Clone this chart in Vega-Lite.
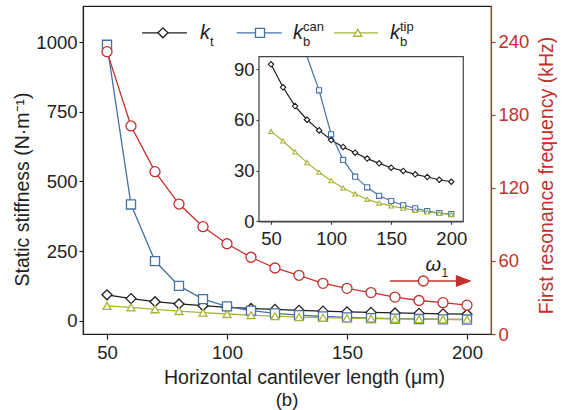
{
  "$schema": "https://vega.github.io/schema/vega-lite/v6.json",
  "width": 408,
  "height": 328,
  "autosize": {"type": "none"},
  "padding": {"left": 83, "top": 6, "right": 71, "bottom": 76},
  "background": "white",
  "config": {
    "view": {"stroke": "#222", "strokeWidth": 1.2},
    "axis": {
      "grid": false,
      "labelFont": "Liberation Sans",
      "titleFont": "Liberation Sans",
      "labelFontSize": 18.5,
      "titleFontSize": 19.5,
      "titleFontWeight": "normal",
      "labelColor": "#222",
      "titleColor": "#222",
      "domainColor": "#222",
      "tickColor": "#222",
      "domainWidth": 1.2,
      "tickWidth": 1.2,
      "format": "d"
    },
    "text": {"font": "Liberation Sans"}
  },
  "datasets": {
    "stiff": [
      {"L": 50, "series": "kt", "k": 92.9}, {"L": 60, "series": "kt", "k": 79.3}, {"L": 70, "series": "kt", "k": 68.2}, {"L": 80, "series": "kt", "k": 60.1},
      {"L": 90, "series": "kt", "k": 53.8}, {"L": 100, "series": "kt", "k": 48.1}, {"L": 110, "series": "kt", "k": 44.0}, {"L": 120, "series": "kt", "k": 40.6},
      {"L": 130, "series": "kt", "k": 37.1}, {"L": 140, "series": "kt", "k": 34.3}, {"L": 150, "series": "kt", "k": 31.7}, {"L": 160, "series": "kt", "k": 29.8},
      {"L": 170, "series": "kt", "k": 27.8}, {"L": 180, "series": "kt", "k": 26.2}, {"L": 190, "series": "kt", "k": 24.6}, {"L": 200, "series": "kt", "k": 23.4},
      {"L": 50, "series": "kbcan", "k": 990}, {"L": 60, "series": "kbcan", "k": 417}, {"L": 70, "series": "kbcan", "k": 214}, {"L": 80, "series": "kbcan", "k": 125},
      {"L": 90, "series": "kbcan", "k": 77.5}, {"L": 100, "series": "kbcan", "k": 51.5}, {"L": 110, "series": "kbcan", "k": 36.3}, {"L": 120, "series": "kbcan", "k": 26.4},
      {"L": 130, "series": "kbcan", "k": 20.1}, {"L": 140, "series": "kbcan", "k": 15.1}, {"L": 150, "series": "kbcan", "k": 12.0}, {"L": 160, "series": "kbcan", "k": 9.5},
      {"L": 170, "series": "kbcan", "k": 7.7}, {"L": 180, "series": "kbcan", "k": 6.1}, {"L": 190, "series": "kbcan", "k": 4.9}, {"L": 200, "series": "kbcan", "k": 4.3},
      {"L": 50, "series": "kbtip", "k": 53.2}, {"L": 60, "series": "kbtip", "k": 47.5}, {"L": 70, "series": "kbtip", "k": 41.0}, {"L": 80, "series": "kbtip", "k": 34.7},
      {"L": 90, "series": "kbtip", "k": 29.0}, {"L": 100, "series": "kbtip", "k": 24.0}, {"L": 110, "series": "kbtip", "k": 19.7}, {"L": 120, "series": "kbtip", "k": 16.2},
      {"L": 130, "series": "kbtip", "k": 13.0}, {"L": 140, "series": "kbtip", "k": 10.8}, {"L": 150, "series": "kbtip", "k": 9.1}, {"L": 160, "series": "kbtip", "k": 7.7},
      {"L": 170, "series": "kbtip", "k": 6.5}, {"L": 180, "series": "kbtip", "k": 5.5}, {"L": 190, "series": "kbtip", "k": 4.7}, {"L": 200, "series": "kbtip", "k": 4.1}
    ],
    "freq": [
      {"L": 50, "f": 231.8}, {"L": 60, "f": 170.8}, {"L": 70, "f": 133.3}, {"L": 80, "f": 106.7},
      {"L": 90, "f": 88.1}, {"L": 100, "f": 74.1}, {"L": 110, "f": 63.0}, {"L": 120, "f": 54.2},
      {"L": 130, "f": 48.2}, {"L": 140, "f": 41.6}, {"L": 150, "f": 37.5}, {"L": 160, "f": 34.0},
      {"L": 170, "f": 30.3}, {"L": 180, "f": 27.5}, {"L": 190, "f": 25.7}, {"L": 200, "f": 23.7}
    ],
    "legend": [
      {"series": "kt", "x1": 64.6, "x2": 83.3, "xm": 73.3, "xk": 88.75, "ly": 1033, "sub": "t", "sup": ""},
      {"series": "kbcan", "x1": 104.0, "x2": 122.8, "xm": 113.75, "xk": 127.5, "ly": 1033, "sub": "b", "sup": "can"},
      {"series": "kbtip", "x1": 144.6, "x2": 162.9, "xm": 154.5, "xk": 167.9, "ly": 1033, "sub": "b", "sup": "tip"}
    ]
  },
  "layer": [
    {
      "layer": [
        {
          "data": {"name": "stiff"},
          "mark": {"type": "line", "strokeWidth": 1.3},
          "encoding": {
            "x": {"field": "L", "type": "quantitative", "title": "Horizontal cantilever length (μm)",
                  "scale": {"domain": [40, 210], "nice": false, "zero": false},
                  "axis": {"values": [50, 100, 150, 200], "tickSize": 5, "labelPadding": 4, "titleX": 221, "titleY": 43, "titleBaseline": "middle", "titleAlign": "center"}},
            "y": {"field": "k", "type": "quantitative", "title": "Static stiffness (N·m⁻¹)",
                  "scale": {"domain": [-47.7, 1129.2], "nice": false, "zero": false},
                  "axis": {"orient": "left", "values": [0, 250, 500, 750, 1000], "format": "d", "tickSize": 4, "labelPadding": 2, "titleX": -61, "titleY": 183, "titleBaseline": "middle", "titleAlign": "center", "titleAngle": 270}},
            "color": {"field": "series", "type": "nominal", "scale": {"domain": ["kt", "kbcan", "kbtip"], "range": ["#1e1e1e", "#4472a8", "#a9b43a"]}, "legend": null}
          }
        },
        {
          "data": {"name": "stiff"},
          "mark": {"type": "point", "opacity": 1, "strokeWidth": 1.3},
          "encoding": {
            "x": {"field": "L", "type": "quantitative", "title": "Horizontal cantilever length (μm)"},
            "y": {"field": "k", "type": "quantitative", "title": "Static stiffness (N·m⁻¹)"},
            "shape": {"field": "series", "type": "nominal", "scale": {"domain": ["kt", "kbcan", "kbtip"], "range": ["diamond", "square", "triangle-up"]}, "legend": null},
            "stroke": {"field": "series", "type": "nominal", "scale": {"domain": ["kt", "kbcan", "kbtip"], "range": ["#1e1e1e", "#4472a8", "#a9b43a"]}, "legend": null},
            "size": {"field": "series", "type": "nominal", "scale": {"domain": ["kt", "kbcan", "kbtip"], "range": [100, 64, 90]}, "legend": null},
            "fill": {"value": "white"}
          }
        },
        {
          "data": {"name": "legend"},
          "mark": {"type": "rule", "strokeWidth": 1.3},
          "encoding": {
            "x": {"field": "x1", "type": "quantitative", "title": "Horizontal cantilever length (μm)"},
            "x2": {"field": "x2", "title": "Horizontal cantilever length (μm)"},
            "y": {"field": "ly", "type": "quantitative", "title": "Static stiffness (N·m⁻¹)"},
            "stroke": {"field": "series", "type": "nominal", "legend": null}
          }
        },
        {
          "data": {"name": "legend"},
          "mark": {"type": "point", "opacity": 1, "strokeWidth": 1.3},
          "encoding": {
            "x": {"field": "xm", "type": "quantitative", "title": "Horizontal cantilever length (μm)"},
            "y": {"field": "ly", "type": "quantitative", "title": "Static stiffness (N·m⁻¹)"},
            "shape": {"field": "series", "type": "nominal", "legend": null},
            "stroke": {"field": "series", "type": "nominal", "legend": null},
            "size": {"field": "series", "type": "nominal", "legend": null},
            "fill": {"value": "white"}
          }
        },
        {
          "data": {"name": "legend"},
          "mark": {"type": "text", "fontSize": 20, "fontStyle": "italic", "align": "left", "baseline": "middle", "color": "#1e1e1e"},
          "encoding": {
            "x": {"field": "xk", "type": "quantitative", "title": "Horizontal cantilever length (μm)"},
            "y": {"field": "ly", "type": "quantitative", "title": "Static stiffness (N·m⁻¹)"},
            "text": {"value": "k"}
          }
        },
        {
          "data": {"name": "legend"},
          "mark": {"type": "text", "fontSize": 13, "align": "left", "baseline": "middle", "dx": 10, "dy": 9, "color": "#1e1e1e"},
          "encoding": {
            "x": {"field": "xk", "type": "quantitative", "title": "Horizontal cantilever length (μm)"},
            "y": {"field": "ly", "type": "quantitative", "title": "Static stiffness (N·m⁻¹)"},
            "text": {"field": "sub"}
          }
        },
        {
          "data": {"name": "legend"},
          "mark": {"type": "text", "fontSize": 13, "align": "left", "baseline": "middle", "dx": 10, "dy": -6, "color": "#1e1e1e"},
          "encoding": {
            "x": {"field": "xk", "type": "quantitative", "title": "Horizontal cantilever length (μm)"},
            "y": {"field": "ly", "type": "quantitative", "title": "Static stiffness (N·m⁻¹)"},
            "text": {"field": "sup"}
          }
        },
        {
          "data": {"values": [{"L": 125, "k": -283, "label": "(b)"}]},
          "mark": {"type": "text", "fontSize": 18.5, "align": "center", "baseline": "middle", "color": "#1e1e1e"},
          "encoding": {
            "x": {"field": "L", "type": "quantitative", "title": "Horizontal cantilever length (μm)"},
            "y": {"field": "k", "type": "quantitative", "title": "Static stiffness (N·m⁻¹)"},
            "text": {"field": "label"}
          }
        }
      ]
    },
    {
      "layer": [
        {
          "data": {"name": "freq"},
          "mark": {"type": "line", "strokeWidth": 1.3, "color": "#c4302b"},
          "encoding": {
            "x": {"field": "L", "type": "quantitative", "scale": {"domain": [40, 210], "nice": false, "zero": false}, "axis": null},
            "y": {"field": "f", "type": "quantitative", "title": "First resonance frequency (kHz)",
                  "scale": {"domain": [0, 269.3], "nice": false, "zero": false},
                  "axis": {"orient": "right", "values": [0, 60, 120, 180, 240], "tickSize": 4, "labelPadding": 3,
                           "labelColor": "#c4302b", "titleColor": "#c4302b", "domainColor": "#c4302b", "tickColor": "#c4302b",
                           "titleX": 55, "titleY": 169, "titleBaseline": "middle", "titleAlign": "center", "titleAngle": 270}}
          }
        },
        {
          "data": {"name": "freq"},
          "mark": {"type": "point", "shape": "circle", "opacity": 1, "strokeWidth": 1.3, "size": 100, "stroke": "#c4302b", "fill": "white", "filled": true},
          "encoding": {
            "x": {"field": "L", "type": "quantitative", "axis": null},
            "y": {"field": "f", "type": "quantitative", "title": "First resonance frequency (kHz)"}
          }
        },
        {
          "data": {"values": [{"L": 167.9, "L2": 196.3, "f": 43.5}]},
          "mark": {"type": "rule", "strokeWidth": 1.6, "color": "#c4302b"},
          "encoding": {
            "x": {"field": "L", "type": "quantitative", "axis": null},
            "x2": {"field": "L2"},
            "y": {"field": "f", "type": "quantitative", "title": "First resonance frequency (kHz)"}
          }
        },
        {
          "data": {"values": [{"L": 181.8, "f": 43.5}]},
          "mark": {"type": "point", "shape": "circle", "opacity": 1, "strokeWidth": 1.3, "size": 100, "stroke": "#c4302b", "fill": "white", "filled": true},
          "encoding": {
            "x": {"field": "L", "type": "quantitative", "axis": null},
            "y": {"field": "f", "type": "quantitative", "title": "First resonance frequency (kHz)"}
          }
        },
        {
          "data": {"values": [{"L": 198.7, "f": 43.5}]},
          "mark": {"type": "point", "shape": "M-1,-0.75L1,0L-1,0.75Z", "opacity": 1, "size": 256, "fill": "#c4302b", "filled": true, "strokeWidth": 0},
          "encoding": {
            "x": {"field": "L", "type": "quantitative", "axis": null},
            "y": {"field": "f", "type": "quantitative", "title": "First resonance frequency (kHz)"}
          }
        },
        {
          "data": {"values": [{"L": 186, "f": 56.7, "label": "ω"}]},
          "mark": {"type": "text", "fontSize": 20, "fontStyle": "italic", "align": "center", "baseline": "middle", "color": "#1e1e1e"},
          "encoding": {
            "x": {"field": "L", "type": "quantitative", "axis": null},
            "y": {"field": "f", "type": "quantitative", "title": "First resonance frequency (kHz)"},
            "text": {"field": "label"}
          }
        },
        {
          "data": {"values": [{"L": 190.8, "f": 50.3, "label": "1"}]},
          "mark": {"type": "text", "fontSize": 12, "align": "center", "baseline": "middle", "color": "#1e1e1e"},
          "encoding": {
            "x": {"field": "L", "type": "quantitative", "axis": null},
            "y": {"field": "f", "type": "quantitative", "title": "First resonance frequency (kHz)"},
            "text": {"field": "label"}
          }
        }
      ]
    },
    {
      "layer": [
        {
          "data": {"values": [{"L": 40, "L2": 210, "k": 0, "k2": 97.4}]},
          "mark": {"type": "rect", "fill": "white", "stroke": "#444", "strokeWidth": 1.2},
          "encoding": {
            "x": {"field": "L", "type": "quantitative", "title": null,
                  "scale": {"domain": [40, 210], "range": [176, 380.3], "nice": false, "zero": false},
                  "axis": {"orient": "bottom", "offset": -112.7, "values": [50, 100, 150, 200], "tickSize": 3, "labelPadding": 5, "domainColor": "#444", "tickColor": "#444"}},
            "x2": {"field": "L2"},
            "y": {"field": "k", "type": "quantitative", "title": null,
                  "scale": {"domain": [0, 97.4], "range": [215.3, 50.7], "nice": false, "zero": false, "clamp": true},
                  "axis": {"orient": "left", "offset": -176, "values": [0, 30, 60, 90], "tickSize": 3, "labelPadding": 2, "domainColor": "#444", "tickColor": "#444"}},
            "y2": {"field": "k2"}
          }
        },
        {
          "data": {"name": "stiff"},
          "transform": [{"filter": "datum.series != 'kbcan' || datum.L >= 80"}],
          "mark": {"type": "line", "strokeWidth": 1.2},
          "encoding": {
            "x": {"field": "L", "type": "quantitative", "title": null},
            "y": {"field": "k", "type": "quantitative", "title": null},
            "stroke": {"field": "series", "type": "nominal", "legend": null}
          }
        },
        {
          "data": {"name": "stiff"},
          "transform": [{"filter": "datum.series != 'kbcan' || datum.L >= 90"}],
          "mark": {"type": "point", "opacity": 1, "strokeWidth": 1.1},
          "encoding": {
            "x": {"field": "L", "type": "quantitative", "title": null},
            "y": {"field": "k", "type": "quantitative", "title": null},
            "shape": {"field": "series", "type": "nominal", "legend": null},
            "stroke": {"field": "series", "type": "nominal", "legend": null},
            "size": {"field": "series", "type": "nominal", "scale": {"domain": ["kt", "kbcan", "kbtip"], "range": [30, 22, 30]}, "legend": null},
            "fill": {"value": "white"}
          }
        }
      ]
    }
  ],
  "resolve": {"scale": {"x": "independent", "y": "independent", "size": "independent"}}
}
